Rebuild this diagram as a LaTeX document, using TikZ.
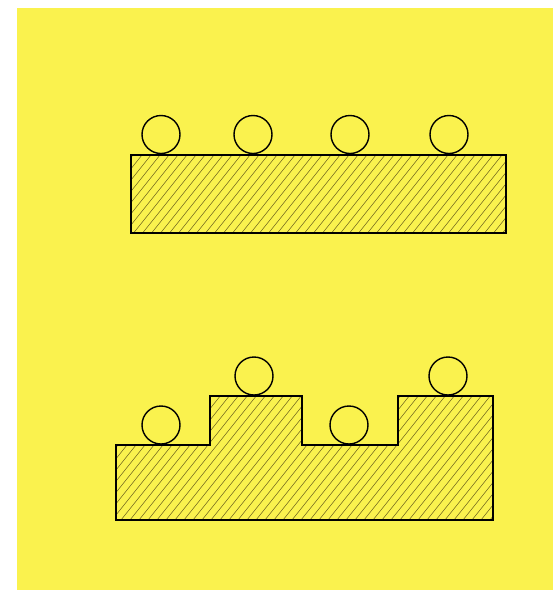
\documentclass[tikz,border=0pt]{standalone}
\usepackage{xcolor}
\usepackage{tikz}
\usetikzlibrary{positioning}

\definecolor{paper}{RGB}{250,242,78}
\definecolor{hatchcol}{RGB}{125,115,35}

\begin{document}
\begin{tikzpicture}[
    x=1pt, y=-1pt,
    ball/.style={
        circle,
        draw,
        line width=1.4pt,
        minimum size=38pt,
        inner sep=0pt
    },
    outline/.style={draw, line width=1.4pt, line join=miter},
    hatch/.style={hatchcol, line width=0.6pt}
]

\useasboundingbox (0,0) rectangle (553,590);
\fill[white] (0,0) rectangle (553,590);
\fill[paper] (17,8) rectangle (553,590);

% upper block
\begin{scope}
    \clip (131,155) rectangle (506,233);
    \foreach \x in {20,29,...,520} \draw[hatch] (\x,240) -- ++(80,-100);
\end{scope}
\draw[outline] (131,155) rectangle (506,233);

\node[ball] (a1) at (161,134.5) {};
\node[ball] (a2) at (253,134.5) {};
\node[ball] (a3) at (350,134.5) {};
\node[ball] (a4) at (449,134.5) {};

% lower block with steps
\begin{scope}
    \clip (116,520) -- (116,445) -- (210,445) -- (210,396) -- (302,396) -- (302,445)
          -- (398,445) -- (398,396) -- (493,396) -- (493,520) -- cycle;
    \foreach \x in {-40,-31,...,500} \draw[hatch] (\x,530) -- ++(120,-150);
\end{scope}
\draw[outline] (116,520) -- (116,445) -- (210,445) -- (210,396) -- (302,396) -- (302,445)
      -- (398,445) -- (398,396) -- (493,396) -- (493,520) -- cycle;

\node[ball] (b1) at (161,425) {};
\node[ball] (b2) at (254,376) {};
\node[ball] (b3) at (349,425) {};
\node[ball] (b4) at (448,376) {};

\end{tikzpicture}
\end{document}
